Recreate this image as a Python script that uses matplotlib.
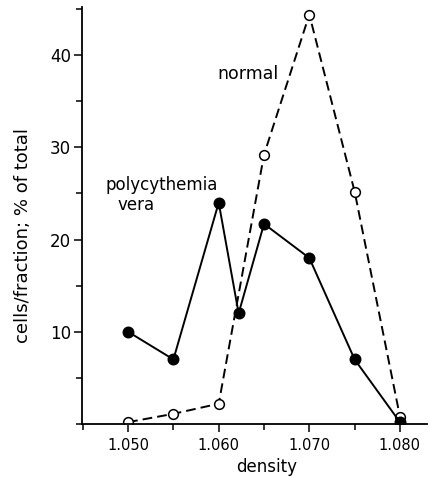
import matplotlib
matplotlib.use('Agg')
import matplotlib.pyplot as plt
from matplotlib.ticker import MultipleLocator

plt.rcParams['font.family'] = ['DejaVu Sans']

# data
density_pv = [1.050, 1.055, 1.060, 1.0622, 1.065, 1.070, 1.075, 1.080]
pv = [10.0, 7.0, 24.0, 12.0, 21.7, 18.0, 7.0, 0.2]

density_normal = [1.050, 1.055, 1.060, 1.065, 1.070, 1.075, 1.080]
normal = [0.2, 1.1, 2.2, 29.2, 44.4, 25.2, 0.8]

xticks = [1.050, 1.060, 1.070, 1.080]
xtick_labels = ['1.050', '1.060', '1.070', '1.080']
yticks = [10, 20, 30, 40]

fig = plt.figure(figsize=(4.31, 4.78), dpi=100)
ax = fig.add_axes([0.19, 0.113, 0.801, 0.872])

ax.plot(density_normal, normal, color='black', linestyle=(0, (5, 2.6)), linewidth=1.4,
        marker='o', markersize=7, markerfacecolor='white', markeredgecolor='black',
        markeredgewidth=1.1, zorder=2)
ax.plot(density_pv, pv, color='black', linestyle='-', linewidth=1.4,
        marker='o', markersize=7.6, markerfacecolor='black', markeredgecolor='black',
        zorder=3)

ax.set_xlim(1.0449, 1.0830)
ax.set_ylim(0, 45.2)

ax.set_xticks(xticks)
ax.set_xticklabels(xtick_labels)
ax.xaxis.set_minor_locator(MultipleLocator(0.005))
ax.set_yticks(yticks)
ax.yaxis.set_minor_locator(MultipleLocator(5))

ax.tick_params(axis='both', which='major', direction='out', length=6, width=1.1)
ax.tick_params(axis='both', which='minor', direction='out', length=4.5, width=1.1)
ax.tick_params(axis='x', labelsize=10.5, pad=4)
ax.tick_params(axis='y', labelsize=12, pad=2)

for s in ['top', 'right']:
    ax.spines[s].set_visible(False)
for s in ['left', 'bottom']:
    ax.spines[s].set_linewidth(1.3)

ax.set_xlabel('density', fontsize=12)
ax.xaxis.set_label_coords(0.536, -0.082)
ax.set_ylabel('cells/fraction; % of total', fontsize=13)
ax.yaxis.set_label_coords(-0.145, 0.453)

ax.text(1.0599, 38.0, 'normal', fontsize=12.5, ha='left', va='center')
ax.text(1.04746, 25.9, 'polycythemia', fontsize=12, ha='left', va='center')
ax.text(1.0488, 23.7, 'vera', fontsize=12, ha='left', va='center')

fig.savefig('out.png', dpi=100)
